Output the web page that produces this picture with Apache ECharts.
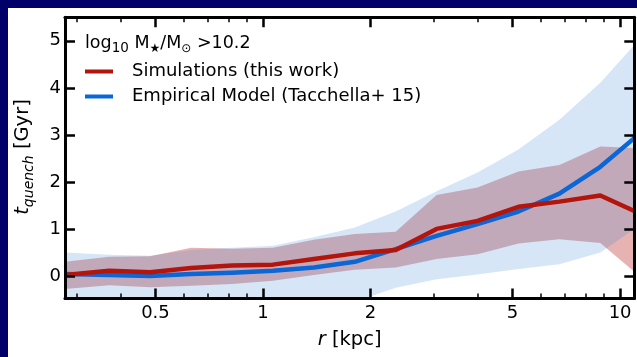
<!DOCTYPE html>
<html>
<head>
<meta charset="utf-8">
<script src="https://cdn.jsdelivr.net/npm/echarts@6/dist/echarts.min.js"></script>
<style>
  html, body { margin: 0; padding: 0; background: #fff; }
  #chart { width: 637px; height: 357px; }
</style>
</head>
<body>
<div id="chart"></div>
<script>
// Radial bins in kpc
const radius = [0.279, 0.371, 0.483, 0.629, 0.819, 1.066, 1.388, 1.807, 2.353, 3.063, 3.988, 5.193, 6.761, 8.803, 10.96];

// Simulations: median quenching time and its scatter band (Gyr)
const simMedian = [0.02, 0.11, 0.08, 0.17, 0.22, 0.24, 0.36, 0.48, 0.55, 1.00, 1.17, 1.47, 1.58, 1.71, 1.38];
const simLow    = [-0.28, -0.20, -0.24, -0.21, -0.17, -0.10, 0.02, 0.13, 0.18, 0.36, 0.46, 0.69, 0.78, 0.70, 0.09];
const simHigh   = [0.30, 0.41, 0.42, 0.60, 0.58, 0.60, 0.77, 0.89, 0.94, 1.72, 1.88, 2.22, 2.36, 2.75, 2.72];

// Empirical model: median quenching time and its scatter band (Gyr)
const empMedian = [0.04, 0.02, 0.00, 0.04, 0.07, 0.11, 0.18, 0.30, 0.57, 0.85, 1.10, 1.37, 1.75, 2.32, 2.93];
const empLow    = [-0.60, -0.60, -0.60, -0.60, -0.60, -0.60, -0.60, -0.55, -0.25, -0.07, 0.03, 0.15, 0.25, 0.50, 1.00];
const empHigh   = [0.50, 0.45, 0.43, 0.55, 0.60, 0.64, 0.82, 1.03, 1.37, 1.80, 2.20, 2.69, 3.32, 4.11, 4.91];

// Tick positions
const majorTicksR = [0.5, 1, 2, 5, 10];
const minorTicksR = [0.3, 0.4, 0.6, 0.7, 0.8, 0.9, 3, 4, 6, 7, 8, 9];
const tTicks = [0, 1, 2, 3, 4, 5];

const SIM_NAME = 'Simulations (this work)';
const EMP_NAME = 'Empirical Model (Tacchella+ 15)';
const FONT = 'DejaVu Sans';
const R_MIN = 0.279, R_MAX = 10.96;
const T_MIN = -0.48, T_MAX = 5.5;

const chart = echarts.init(document.getElementById('chart'), null, { renderer: 'canvas' });

// Filled band between lower and upper curves, drawn as one polygon
function band(name, lo, hi, fill, z) {
  return {
    type: 'custom',
    name: name,
    xAxisIndex: 0,
    yAxisIndex: 0,
    clip: true,
    silent: true,
    z: z,
    data: [[radius[0], lo[0]]],
    renderItem: function (params, api) {
      const pts = [];
      for (let i = 0; i < radius.length; i++) pts.push(api.coord([radius[i], hi[i]]));
      for (let i = radius.length - 1; i >= 0; i--) pts.push(api.coord([radius[i], lo[i]]));
      return { type: 'polygon', shape: { points: pts }, style: { fill: fill } };
    }
  };
}

function xAxisDef(position, ticks, len, width, withLine, withLabels) {
  return {
    type: 'log',
    logBase: 10,
    position: position,
    min: R_MIN,
    max: R_MAX,
    z: 10,
    splitLine: { show: false },
    minorTick: { show: false },
    axisLine: { show: withLine, onZero: false, lineStyle: { color: '#000', width: 3 } },
    axisTick: { show: true, inside: true, length: len, customValues: ticks, lineStyle: { color: '#000', width: width } },
    axisLabel: withLabels ? {
      show: true, customValues: ticks, margin: 6, color: '#000', fontSize: 18, fontFamily: FONT,
      formatter: function (v) { return String(Math.round(v * 100) / 100); }
    } : { show: false },
    name: withLabels ? '{i|r} [kpc]' : '',
    nameLocation: 'middle',
    nameGap: 31,
    nameTextStyle: { color: '#000', fontSize: 19.5, fontFamily: FONT, rich: { i: { fontStyle: 'italic', fontSize: 19.5, fontFamily: FONT, color: '#000' } } }
  };
}

function yAxisDef(position, withLabels) {
  return {
    type: 'value',
    position: position,
    min: T_MIN,
    max: T_MAX,
    z: 10,
    splitLine: { show: false },
    axisLine: { show: true, onZero: false, lineStyle: { color: '#000', width: 3 } },
    axisTick: { show: true, inside: true, length: 10, customValues: tTicks, lineStyle: { color: '#000', width: 2.5 } },
    axisLabel: withLabels ? {
      show: true, customValues: tTicks, margin: 4, color: '#000', fontSize: 18, fontFamily: FONT,
      formatter: function (v) { return String(v); }
    } : { show: false }
  };
}

const option = {
  animation: false,
  backgroundColor: '#fff',
  textStyle: { fontFamily: FONT },
  grid: { left: 65, right: 2.7, top: 17.3, bottom: 58.5, containLabel: false },
  xAxis: [
    xAxisDef('bottom', majorTicksR, 10, 2.5, true, true),
    xAxisDef('bottom', minorTicksR, 5, 1.5, false, false),
    xAxisDef('top', majorTicksR, 10, 2.5, true, false),
    xAxisDef('top', minorTicksR, 5, 1.5, false, false)
  ],
  yAxis: [
    yAxisDef('left', true),
    yAxisDef('right', false)
  ],
  legend: {
    data: [SIM_NAME, EMP_NAME],
    orient: 'vertical',
    left: 85,
    top: 62.5,
    padding: 0,
    icon: 'rect',
    itemWidth: 28,
    itemHeight: 4,
    itemGap: 7,
    selectedMode: false,
    textStyle: { color: '#000', fontSize: 18, fontFamily: FONT, padding: [0, 0, 0, 14] }
  },
  graphic: [
    { type: 'rect', z: 100, shape: { x: 0, y: 0, width: 637, height: 8 }, style: { fill: '#000068' } },
    { type: 'rect', z: 100, shape: { x: 0, y: 0, width: 8, height: 357 }, style: { fill: '#000068' } },
    {
      type: 'text', z: 50, x: 85, y: 43,
      style: {
        text: '{n|log}{s|10}{n| M}{t|★}{n|/M}{t|⊙}{n| >10.2}',
        verticalAlign: 'middle',
        fill: '#000',
        rich: {
          n: { fontSize: 17.5, lineHeight: 24, fontFamily: FONT, fill: '#000' },
          s: { fontSize: 13.5, lineHeight: 17, verticalAlign: 'bottom', fontFamily: FONT, fill: '#000' },
          t: { fontSize: 12, lineHeight: 15, verticalAlign: 'bottom', fontFamily: FONT, fill: '#000' }
        }
      }
    },
    {
      type: 'text', z: 50, x: 23, y: 157, rotation: Math.PI / 2,
      style: {
        text: '{i|t}{s|quench}{n| [Gyr]}',
        align: 'center',
        verticalAlign: 'middle',
        fill: '#000',
        rich: {
          i: { fontSize: 19.5, fontStyle: 'italic', lineHeight: 26, fontFamily: FONT, fill: '#000' },
          s: { fontSize: 14, fontStyle: 'italic', lineHeight: 16, verticalAlign: 'bottom', fontFamily: FONT, fill: '#000' },
          n: { fontSize: 19.5, lineHeight: 26, fontFamily: FONT, fill: '#000' }
        }
      }
    }
  ],
  series: [
    band('simBand', simLow, simHigh, 'rgba(178,20,14,0.32)', 1),
    band('empBand', empLow, empHigh, 'rgba(50,130,215,0.2)', 2),
    {
      type: 'line', name: EMP_NAME, xAxisIndex: 0, yAxisIndex: 0, z: 3,
      data: radius.map(function (r, i) { return [r, empMedian[i]]; }),
      symbol: 'none', clip: true,
      color: '#0b66d6',
      lineStyle: { color: '#0b66d6', width: 4.5, join: 'round' },
      itemStyle: { color: '#0b66d6' }
    },
    {
      type: 'line', name: SIM_NAME, xAxisIndex: 0, yAxisIndex: 0, z: 4,
      data: radius.map(function (r, i) { return [r, simMedian[i]]; }),
      symbol: 'none', clip: true,
      color: '#b3140c',
      lineStyle: { color: '#b3140c', width: 4.5, join: 'round' },
      itemStyle: { color: '#b3140c' }
    }
  ]
};

chart.setOption(option);
</script>
</body>
</html>
